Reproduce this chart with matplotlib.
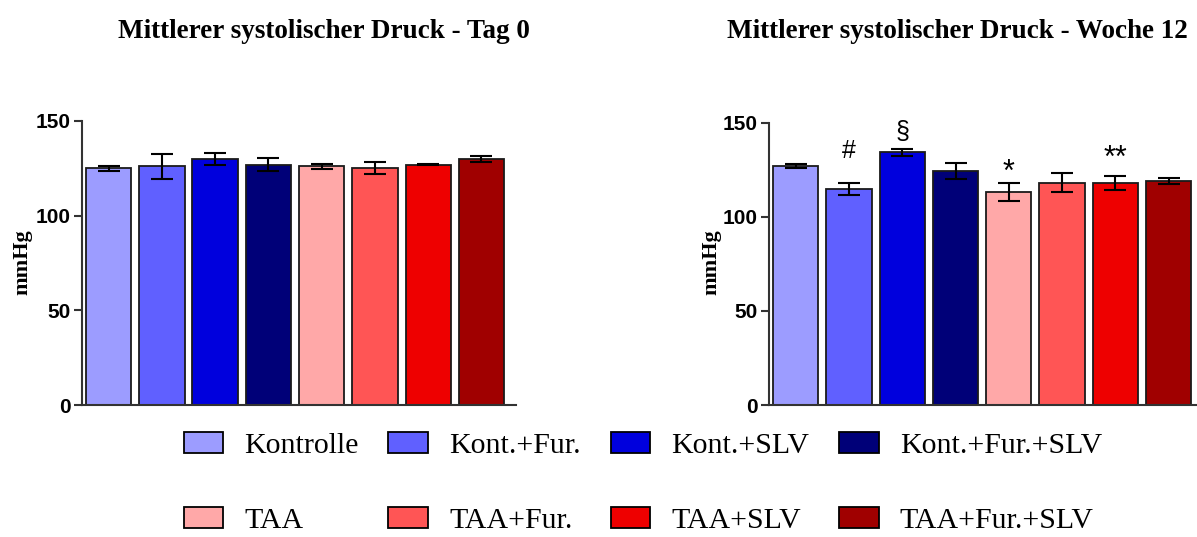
import numpy as np
import matplotlib.pyplot as plt
from matplotlib.patches import Patch

groups = ['Kontrolle', 'Kont.+Fur.', 'Kont.+SLV', 'Kont.+Fur.+SLV',
          'TAA', 'TAA+Fur.', 'TAA+SLV', 'TAA+Fur.+SLV']
colors = ['#9c9cff', '#6060ff', '#0000dd', '#000078',
          '#ffa8a8', '#ff5555', '#ee0000', '#a00000']

# Tag 0
mean_d0 = [125, 126, 130, 127, 126, 125, 127, 130]
sem_d0 = [1.4, 6.4, 3.2, 3.2, 1.4, 3.2, 0.5, 1.5]

# Woche 12
mean_w12 = [127, 115, 134.2, 124.3, 113.1, 118.2, 118.2, 119.1]
sem_w12 = [1.2, 3.2, 1.8, 4.2, 4.9, 5.0, 3.7, 1.5]

# significance marks on the week-12 panel: (bar index, symbol, height in mmHg)
marks = [(1, '#', 135), (2, '\u00a7', 145), (4, '*', 123.5), (6, '**', 131)]

titles = ['Mittlerer systolischer Druck - Tag 0',
          'Mittlerer systolischer Druck - Woche 12']

fig = plt.figure(figsize=(11.97, 5.37), dpi=100)
ax1 = fig.add_axes([0.0685, 0.2458, 0.3626, 0.5289])
ax2 = fig.add_axes([0.6424, 0.2458, 0.3576, 0.5257])

x = np.arange(len(groups))
serif = 'Liberation Serif'
sans = 'Liberation Sans'

for ax, means, sems, xr in [(ax1, mean_d0, sem_d0, 7.65), (ax2, mean_w12, sem_w12, 7.53)]:
    ax.bar(x, means, width=0.85, color=colors, edgecolor='#1a1a1a', linewidth=1.3,
           yerr=sems, capsize=8,
           error_kw=dict(elinewidth=1.5, capthick=1.5, ecolor='black'))
    ax.set_xlim(-0.5, xr)
    ax.set_ylim(0, 150)
    ax.set_yticks([0, 50, 100, 150])
    ax.set_xticks([])
    for s in ['top', 'right']:
        ax.spines[s].set_visible(False)
    for s in ['left', 'bottom']:
        ax.spines[s].set_linewidth(1.5)
        ax.spines[s].set_color('#333333')
    ax.tick_params(axis='y', length=6, width=1.5, color='#333333', pad=2)
    for lab in ax.get_yticklabels():
        lab.set_fontfamily(sans)
        lab.set_fontweight('bold')
        lab.set_fontsize(15)

for i, sym, yv in marks:
    fs = 22 if '*' in sym else 18
    ax2.text(x[i], yv, sym, ha='center', va='center', fontsize=fs,
             family=sans, clip_on=False)

fig.text(0.2707, 0.942, titles[0], ha='center', va='center',
         family=serif, fontweight='bold', fontsize=19.5)
fig.text(0.7995, 0.942, titles[1], ha='center', va='center',
         family=serif, fontweight='bold', fontsize=19.5)

fig.text(0.019, 0.512, 'mmHg', rotation=90, ha='center', va='center',
         family=serif, fontweight='bold', fontsize=16)
fig.text(0.594, 0.512, 'mmHg', rotation=90, ha='center', va='center',
         family=serif, fontweight='bold', fontsize=16)

# legend filled column-wise: Kontroll group on top row, TAA group below
order = [0, 4, 1, 5, 2, 6, 3, 7]
handles = [Patch(facecolor=colors[k], edgecolor='black', linewidth=1.3, label=groups[k])
           for k in order]
fig.legend(handles=handles, ncol=4, loc='center', bbox_to_anchor=(0.537, 0.1),
           frameon=False, prop={'family': serif, 'size': 21.5},
           handlelength=1.33, handleheight=0.68, handletextpad=0.7,
           columnspacing=1.0, labelspacing=1.62, borderpad=0.2)

fig.savefig('out.png', dpi=100)
